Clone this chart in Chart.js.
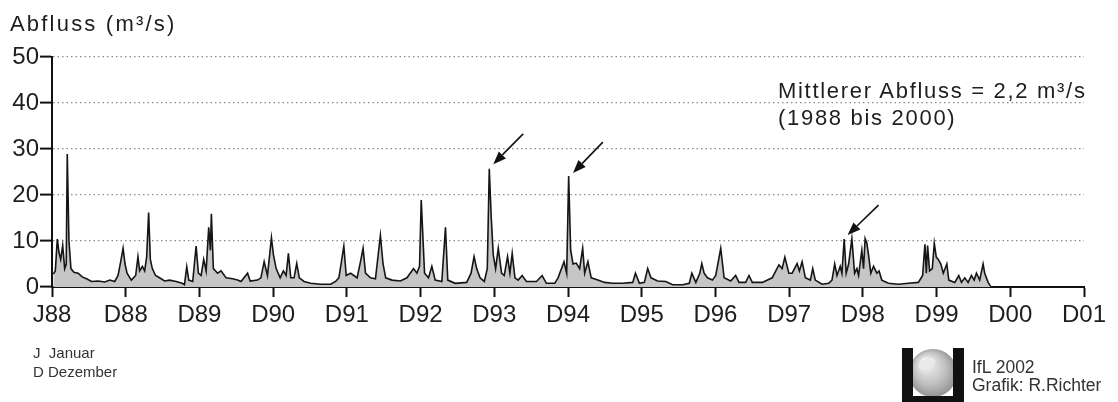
<!DOCTYPE html>
<html lang="de">
<head>
<meta charset="utf-8">
<title>Abfluss 1988 bis 2000</title>
<script src="https://cdn.jsdelivr.net/npm/chart.js@4.4.1/dist/chart.umd.min.js"></script>
<style>
  html, body { margin: 0; padding: 0; background: #fff; }
  #wrap { position: relative; width: 1118px; height: 402px; overflow: hidden;
          font-family: 'Liberation Sans', Arial, Helvetica, sans-serif; color: #1e1e1e; }
  #wrap canvas { position: absolute; left: 0; top: 0; }
  .txt { position: absolute; white-space: nowrap; }
  #titel { left: 10px; top: 13px; font-size: 22px; line-height: 22px; letter-spacing: 2.2px; }
  #mittel { left: 778px; top: 77px; font-size: 22px; line-height: 27px; letter-spacing: 1.7px; }
  #legende { left: 33px; top: 344px; font-size: 15px; line-height: 18.5px; color: #333; }
  #credit { left: 972px; top: 359px; font-size: 17.5px; line-height: 17.5px; color: #333; }
</style>
</head>
<body>
<div id="wrap">
  <canvas id="chart" width="1118" height="402"></canvas>
  <div class="txt" id="titel">Abfluss (m³/s)</div>
  <div class="txt" id="mittel">Mittlerer Abfluss = 2,2 m³/s<br>(1988 bis 2000)</div>
  <div class="txt" id="legende">J&nbsp; Januar<br>D Dezember</div>
  <div class="txt" id="credit">IfL 2002<br>Grafik: R.Richter</div>
</div>
<script>
// ── Abfluss 1988–2000, Werte ────────────────────────────────────────
// Zeit in Dezimaljahren, Abfluss in m³/s

const zeit = [
  // 1988 – Mitte 1990
  1988.018, 1988.045, 1988.072, 1988.095, 1988.118, 1988.145, 1988.172, 1988.193, 1988.207, 1988.230,
  1988.257, 1988.297, 1988.355, 1988.409, 1988.469, 1988.536, 1988.626, 1988.716, 1988.784, 1988.851,
  1988.896, 1988.932, 1988.964, 1988.991, 1989.018, 1989.077, 1989.135, 1989.166, 1989.189, 1989.226,
  1989.257, 1989.284, 1989.311, 1989.334, 1989.361, 1989.405, 1989.459, 1989.527, 1989.595, 1989.685,
  1989.766, 1989.797, 1989.828, 1989.855, 1989.909, 1989.955, 1989.986, 1990.023, 1990.058, 1990.091,
  1990.126, 1990.149, 1990.162, 1990.189, 1990.247, 1990.293, 1990.361, 1990.450, 1990.518,
  // Mitte 1990 – 1992
  1990.564, 1990.653, 1990.689, 1990.788, 1990.834, 1990.878, 1990.923, 1990.977, 1991.004, 1991.041,
  1991.095, 1991.139, 1991.176, 1991.207, 1991.239, 1991.284, 1991.320, 1991.355, 1991.419, 1991.509,
  1991.645, 1991.780, 1991.847, 1991.892, 1991.959, 1991.991, 1992.050, 1992.095, 1992.139, 1992.185,
  1992.220, 1992.253, 1992.320, 1992.388, 1992.455, 1992.491, 1992.527, 1992.612, 1992.726, 1992.815,
  1992.905, 1992.950, 1992.986, 1993.009,
  // 1993 – Mitte 1995
  1993.054, 1993.108, 1993.153, 1993.199, 1993.288, 1993.338, 1993.369, 1993.469, 1993.626, 1993.685,
  1993.726, 1993.761, 1993.807, 1993.865, 1993.905, 1993.932, 1993.959, 1993.986, 1994.018, 1994.054,
  1994.099, 1994.135, 1994.180, 1994.212, 1994.243, 1994.280, 1994.324, 1994.378, 1994.436, 1994.572,
  1994.649, 1994.707, 1994.820, 1994.865, 1994.946, 1994.982, 1995.009, 1995.036, 1995.068, 1995.112,
  1995.158, 1995.199, 1995.226, 1995.270, 1995.315, 1995.405, 1995.496,
  // Mitte 1995 – 1997
  1995.608, 1995.743, 1995.878, 1995.915, 1995.969, 1996.036, 1996.081, 1996.126, 1996.216, 1996.328,
  1996.419, 1996.554, 1996.645, 1996.680, 1996.734, 1996.788, 1996.815, 1996.847, 1996.892, 1996.959,
  1997.004, 1997.072, 1997.118, 1997.207, 1997.274, 1997.320, 1997.410, 1997.455, 1997.500, 1997.635,
  1997.770, 1997.861, 1997.905, 1997.942, 1997.996,
  // 1998 – 2000
  1998.041, 1998.108, 1998.139, 1998.176, 1998.220, 1998.288, 1998.320, 1998.355, 1998.446, 1998.537,
  1998.581, 1998.618, 1998.649, 1998.693, 1998.716, 1998.747, 1998.774, 1998.807, 1998.851, 1998.888,
  1998.919, 1998.942, 1998.986, 1999.009, 1999.031, 1999.054, 1999.077, 1999.108, 1999.145, 1999.189,
  1999.220, 1999.257, 1999.347, 1999.482, 1999.618, 1999.753, 1999.811, 1999.842, 1999.861, 1999.878,
  1999.905, 1999.942, 1999.969, 1999.996, 2000.023, 2000.058, 2000.091, 2000.139, 2000.166, 2000.247,
  2000.301, 2000.338, 2000.382, 2000.428, 2000.473, 2000.510, 2000.541, 2000.585, 2000.631, 2000.653,
  2000.699, 2000.732,
];

const abfluss = [
  2.8, 3.5, 10.4, 7.5, 6, 9, 4, 5, 28.9, 10,
  4, 3.2, 3, 2.2, 1.8, 1.2, 1.3, 1.1, 1.5, 1.2,
  2.5, 5.5, 8.4, 5, 3, 1.5, 2.5, 6.6, 3.5, 4.5,
  3.5, 6.5, 16.2, 6, 4, 2.5, 2, 1.3, 1.5, 1.2,
  0.8, 0.5, 4.4, 1.5, 1.2, 8.9, 3, 2.5, 6, 3.5,
  13, 8, 15.9, 4, 3, 3.5, 2, 1.8, 1.5,

  1.2, 3, 1.3, 1.5, 2, 5.5, 2.5, 10.7, 7, 4,
  2, 3.5, 2.5, 7.3, 2, 2, 5.1, 2, 1.2, 0.8,
  0.6, 0.6, 1.2, 2, 8.9, 2.5, 3, 2.5, 2, 5.5,
  8.4, 3, 2, 1.8, 11.2, 5, 2, 1.5, 1.3, 2,
  4, 3, 4.5, 18.9,

  3, 2, 4.5, 1.5, 1.2, 13, 1.5, 0.8, 1, 3,
  6.6, 4, 2, 1.2, 4, 25.7, 15, 7, 4, 8.4,
  3, 2.5, 6.6, 3, 7.3, 2, 1.5, 2.5, 1.2, 1.2,
  2.5, 0.8, 0.8, 2, 5.5, 3, 24.1, 8, 5, 5.2,
  4, 8.4, 3, 5.5, 2, 1.5, 1,

  0.8, 0.8, 1, 3, 0.8, 1, 4, 2, 1.3, 1.2,
  0.5, 0.5, 0.8, 3, 1, 3, 5.1, 3, 2, 1.5,
  2.5, 8.4, 2, 1.3, 2.5, 1, 1, 2.5, 1, 1,
  2, 4.8, 4, 6.5, 3,

  3, 5.1, 3.5, 5.5, 2, 1.5, 4, 1.5, 0.6, 0.8,
  1.5, 5, 2.5, 4.5, 3, 10.4, 3, 5, 10.5, 3,
  4, 2.5, 8, 4, 10.5, 9.5, 7, 3, 4.5, 3,
  3.5, 1.5, 0.8, 0.6, 0.8, 1, 2.5, 9.3, 3, 9,
  3.5, 4, 9.5, 6.5, 6, 5, 3, 5, 1.5, 1,
  2.5, 1, 2, 1, 2.5, 1.5, 3, 1.5, 5, 3,
  1, 0.2,
];

// Achsenbeschriftung: J = Januar (Anfang 1988), D = Ende Dezember des Jahres
const xLabels = ['J88', 'D88', 'D89', 'D90', 'D91', 'D92', 'D93', 'D94', 'D95', 'D96', 'D97', 'D98', 'D99', 'D00', 'D01'];
const yTicks = [0, 10, 20, 30, 40, 50];

// Pfeile auf die Hochwasser: [Spitze Jahr, Spitze Wert, Ende Jahr, Ende Wert]
const pfeile = [
  [1993.986, 26.7, 1994.392, 33.3],
  [1995.068, 24.8, 1995.473, 31.5],
  [1998.793, 11.3, 1999.212, 17.8],
];

if (zeit.length !== abfluss.length) console.warn('Datenlänge', zeit.length, abfluss.length);
const punkte = zeit.map((t, i) => ({ x: t, y: abfluss[i] }));

const FONT = "'Liberation Sans', Arial, Helvetica, sans-serif";

const pfeilPlugin = {
  id: 'pfeile',
  afterDatasetsDraw(chart) {
    const { ctx, scales: { x, y } } = chart;
    ctx.save();
    ctx.strokeStyle = '#111';
    ctx.fillStyle = '#111';
    ctx.lineWidth = 1.6;
    for (const [tx, ty, ex, ey] of pfeile) {
      const px = x.getPixelForValue(tx), py = y.getPixelForValue(ty);
      const qx = x.getPixelForValue(ex), qy = y.getPixelForValue(ey);
      const a = Math.atan2(py - qy, px - qx);
      const len = 13, w = 5;
      const bx = px - Math.cos(a) * len, by = py - Math.sin(a) * len;
      ctx.beginPath();
      ctx.moveTo(qx, qy);
      ctx.lineTo(bx, by);
      ctx.stroke();
      ctx.beginPath();
      ctx.moveTo(px, py);
      ctx.lineTo(bx + Math.sin(a) * w, by - Math.cos(a) * w);
      ctx.lineTo(bx - Math.sin(a) * w, by + Math.cos(a) * w);
      ctx.closePath();
      ctx.fill();
    }
    ctx.restore();
  }
};

// IfL-Logo unten rechts (nur Dekoration)
const logoPlugin = {
  id: 'logo',
  afterDraw(chart) {
    const ctx = chart.ctx;
    ctx.save();
    const g = ctx.createRadialGradient(925, 362, 3, 933, 373, 26);
    g.addColorStop(0, '#f2f2f2');
    g.addColorStop(0.6, '#bdbdbd');
    g.addColorStop(1, '#8c8c8c');
    ctx.fillStyle = g;
    ctx.beginPath();
    ctx.arc(933, 373, 24, 0, Math.PI * 2);
    ctx.fill();
    ctx.fillStyle = '#e9e9e9';
    ctx.beginPath();
    ctx.ellipse(927, 364, 9, 5, -0.5, 0, Math.PI * 2);
    ctx.fill();
    ctx.fillStyle = '#111';
    ctx.fillRect(902, 348, 11, 54);
    ctx.fillRect(953, 348, 11, 54);
    ctx.fillRect(913, 396, 40, 6);
    ctx.restore();
  }
};

new Chart(document.getElementById('chart'), {
  type: 'line',
  data: {
    datasets: [{
      label: 'Abfluss',
      data: punkte,
      borderColor: '#151515',
      borderWidth: 1.6,
      backgroundColor: '#c6c6c6',
      fill: 'origin',
      pointRadius: 0,
      tension: 0,
    }],
  },
  options: {
    responsive: false,
    animation: false,
    devicePixelRatio: 1,
    layout: { padding: { top: 57, right: 34, left: 0, bottom: 0 } },
    plugins: { legend: { display: false }, tooltip: { enabled: false } },
    scales: {
      x: {
        type: 'linear', min: 1988, max: 2002,
        afterFit: s => { s.height = 115; },
        afterBuildTicks: s => { s.ticks = xLabels.map((_, i) => ({ value: 1988 + i })); },
        ticks: {
          autoSkip: false, maxRotation: 0, padding: 4, color: '#1e1e1e',
          font: { family: FONT, size: 24 },
          callback: (v, i) => xLabels[i],
        },
        grid: { drawOnChartArea: false, drawTicks: true, tickLength: 10, tickWidth: 2, tickColor: '#111' },
        border: { display: true, color: '#111', width: 2 },
      },
      y: {
        min: 0, max: 50,
        afterFit: s => { s.width = 52; },
        afterBuildTicks: s => { s.ticks = yTicks.map(v => ({ value: v })); },
        ticks: { padding: 1, color: '#1e1e1e', font: { family: FONT, size: 24 } },
        grid: {
          color: c => (c.tick && c.tick.value === 0) ? 'rgba(0,0,0,0)' : '#8a8a8a',
          lineWidth: 1.2, tickLength: 12, tickWidth: 2, tickColor: '#111',
        },
        border: { display: true, color: '#111', width: 2, dash: [1.5, 3] },
      },
    },
  },
  plugins: [pfeilPlugin, logoPlugin],
});
</script>
</body>
</html>
